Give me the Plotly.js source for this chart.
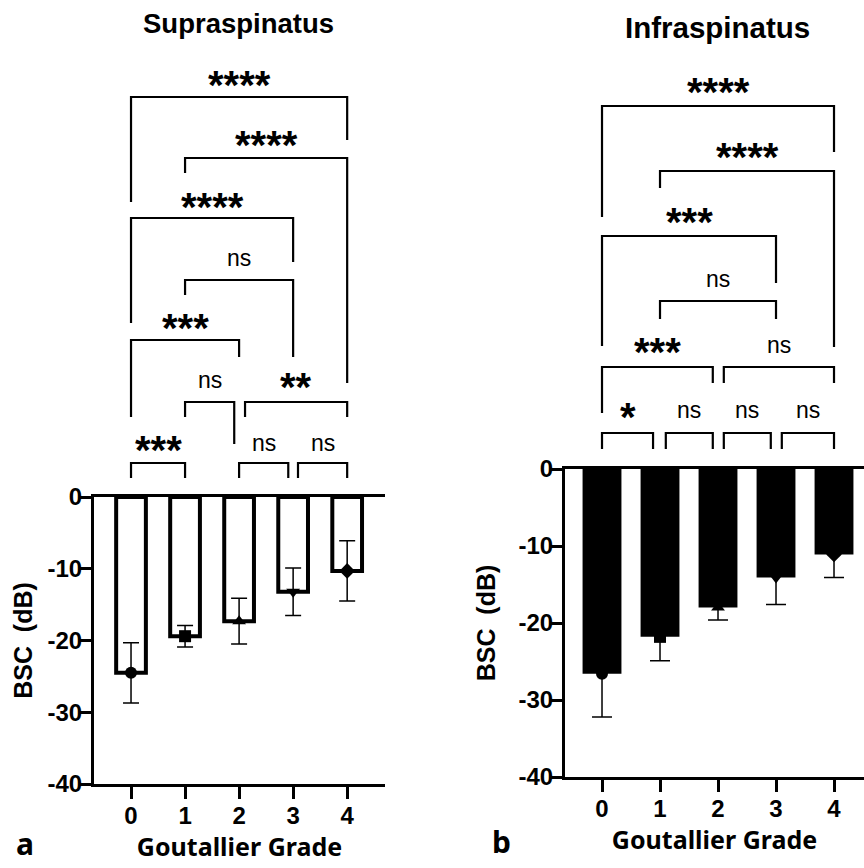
<!DOCTYPE html>
<html>
<head>
<meta charset="utf-8">
<script src="https://cdn.plot.ly/plotly-3.0.1.min.js"></script>
<style>html,body{margin:0;padding:0;background:#fff;}#chart{width:864px;height:868px;}</style>
</head>
<body>
<div id="chart"></div>
<script>
// ---- data ----
const grades = [0, 1, 2, 3, 4];
const gradeLabels = ['0', '1', '2', '3', '4'];
const supraMean = [-24.5, -19.4, -17.3, -13.2, -10.3];
const supraSD = [4.2, 1.5, 3.2, 3.3, 4.2];
const infraMean = [-26.6, -21.8, -18.0, -14.1, -11.1];
const infraSD = [5.6, 3.1, 1.6, 3.5, 3.0];
const yTicks = [0, -10, -20, -30, -40];
const yTickLabels = ['0', '-10', '-20', '-30', '-40'];
const markerSymbols = ['circle', 'square', 'triangle-up', 'triangle-down', 'diamond'];

const supraPairs = [[0,1],[2,3],[3,4],[1,2],[2,4],[0,2],[1,3],[0,3],[1,4],[0,4]];
const supraLabels = ['***','ns','ns','ns','**','***','ns','****','****','****'];
const infraPairs = [[0,1],[1,2],[2,3],[3,4],[0,2],[2,4],[1,3],[0,3],[1,4],[0,4]];
const infraLabels = ['*','ns','ns','ns','***','ns','ns','***','****','****'];

// ---- bracket geometry (layout only): [xOffL, xOffR, lineY px, leftLegEnd px, rightLegEnd px, labelY px]
const supraGeom = [
  [0,0,463,478,478,443],[0,-0.09,463,478,478,443],[0.09,0,463,478,478,443],
  [0,-0.09,402,417,444,380],[0.11,0,402,417,417,380],
  [0,0,340,417,357,321],[0,0,280,295,357,258],[0,0,218,323,262,200],
  [0,0,158,173,383,138],[0,0,97,202,140,78]
];
const infraGeom = [
  [0,-0.12,433,449,449,410],[0.1,-0.09,433,449,449,410],[0.1,-0.09,433,449,449,410],[0.1,0,433,449,449,410],
  [0,-0.09,367,413,383,345],[0.1,0,367,383,383,345],
  [0,0,301,319,319,279],[0,0,236,346,283,215],[0,0,171,188,347,150],[0,0,106,217,152,85]
];

const W = 864, H = 868;
const py = p => 1 - p / H;
const ARIAL = 'Liberation Sans, Arial, sans-serif';
const SEGOE = 'Noto Sans, Open Sans, sans-serif';

const traces = [
  {type:'bar', x: grades, y: supraMean, xaxis:'x', yaxis:'y', width:0.55,
   marker:{color:'white', line:{color:'black', width:4}},
   error_y:{type:'data', array: supraSD, visible:true, color:'black', thickness:1.5, width:8},
   hoverinfo:'skip', showlegend:false},
  {type:'scatter', mode:'markers', x: grades, y: supraMean, xaxis:'x', yaxis:'y',
   marker:{symbol: markerSymbols, size:12, color:'black'}, showlegend:false, hoverinfo:'skip', cliponaxis:false},
  {type:'bar', x: grades, y: infraMean, xaxis:'x2', yaxis:'y2', width:0.67,
   marker:{color:'black', line:{width:0}},
   error_y:{type:'data', array: infraSD, visible:true, color:'black', thickness:1.5, width:10},
   hoverinfo:'skip', showlegend:false},
  {type:'scatter', mode:'markers', x: grades, y: infraMean, xaxis:'x2', yaxis:'y2',
   marker:{symbol: markerSymbols, size:12, color:'black'}, showlegend:false, hoverinfo:'skip', cliponaxis:false}
];

const shapes = [];
const annotations = [];
function addBrackets(pairs, labels, geom, xref) {
  pairs.forEach((p, i) => {
    const g = geom[i];
    const xa = p[0] + g[0], xb = p[1] + g[1];
    shapes.push({type:'path', xref: xref, yref:'paper',
      path: `M ${xa},${py(g[3])} L ${xa},${py(g[2])} L ${xb},${py(g[2])} L ${xb},${py(g[4])}`,
      line:{color:'black', width:2.2}});
    const isNs = labels[i] === 'ns';
    annotations.push({xref: xref, yref:'paper', x:(xa + xb) / 2, y: py(isNs ? g[5] : g[5] + 7),
      text: labels[i], showarrow:false, xanchor:'center', yanchor:'middle',
      font: isNs ? {family: ARIAL, size: 23, color:'black'} : {family: ARIAL, size: 40, color:'black', weight: 'bold'}});
  });
}
addBrackets(supraPairs, supraLabels, supraGeom, 'x');
addBrackets(infraPairs, infraLabels, infraGeom, 'x2');

annotations.push({xref:'paper', yref:'paper', x: 239/W, y: py(24), text:'Supraspinatus', showarrow:false, xanchor:'center', yanchor:'middle', font:{family: ARIAL, size: 27.5, color:'black', weight:'bold'}});
annotations.push({xref:'paper', yref:'paper', x: 717/W, y: py(28), text:'Infraspinatus', showarrow:false, xanchor:'center', yanchor:'middle', font:{family: ARIAL, size: 29.5, color:'black', weight:'bold'}});
annotations.push({xref:'paper', yref:'paper', x: 25/W, y: py(843), text:'a', showarrow:false, xanchor:'center', yanchor:'middle', font:{family: SEGOE, size: 30, color:'black', weight:'bold'}});
annotations.push({xref:'paper', yref:'paper', x: 501/W, y: py(841), text:'b', showarrow:false, xanchor:'center', yanchor:'middle', font:{family: SEGOE, size: 30, color:'black', weight:'bold'}});

const tickFont = {family: ARIAL, size: 24, color:'black', weight:'bold'};
function xAxis(domain, range) {
  return {domain: domain, range: range, tickmode:'array', tickvals: grades, ticktext: gradeLabels,
    ticks:'outside', ticklen:12, tickwidth:3, tickcolor:'black', showline:true, linewidth:3, linecolor:'black',
    mirror:true, showgrid:false, zeroline:false, tickfont: tickFont, ticklabelstandoff: -4, fixedrange:true,
    title:{text:'Goutallier Grade', font:{family: SEGOE, size: 25, color:'black', weight:'bold'}, standoff: 3}};
}
function yAxis(domain, titleStandoff) {
  return {domain: domain, range:[-40, 0], tickmode:'array', tickvals: yTicks, ticktext: yTickLabels,
    ticks:'outside', ticklen:12, tickwidth:3, tickcolor:'black', showline:true, linewidth:3, linecolor:'black',
    showgrid:false, zeroline:false, tickfont: tickFont, ticklabelstandoff: -8, fixedrange:true,
    title:{text:'BSC  (dB)', font:{family: ARIAL, size: 25, color:'black', weight:'bold'}, standoff: titleStandoff}};
}

const layout = {
  width: W, height: H, margin:{l:0, r:0, t:0, b:0}, paper_bgcolor:'white', plot_bgcolor:'white',
  showlegend:false, bargap: 0.3,
  xaxis: xAxis([94/W, 385/W], [-0.685, 4.70]),
  yaxis: yAxis([py(784), py(497)], 8),
  xaxis2: Object.assign(xAxis([565/W, 1], [-0.638, 4.517]), {anchor:'y2'}),
  yaxis2: Object.assign(yAxis([py(777), py(469)], 16), {anchor:'x2'}),
  shapes: shapes, annotations: annotations
};
layout.xaxis.anchor = 'y';
layout.yaxis.anchor = 'x';

Plotly.newPlot('chart', traces, layout, {displayModeBar:false, staticPlot:true});
</script>
</body>
</html>
